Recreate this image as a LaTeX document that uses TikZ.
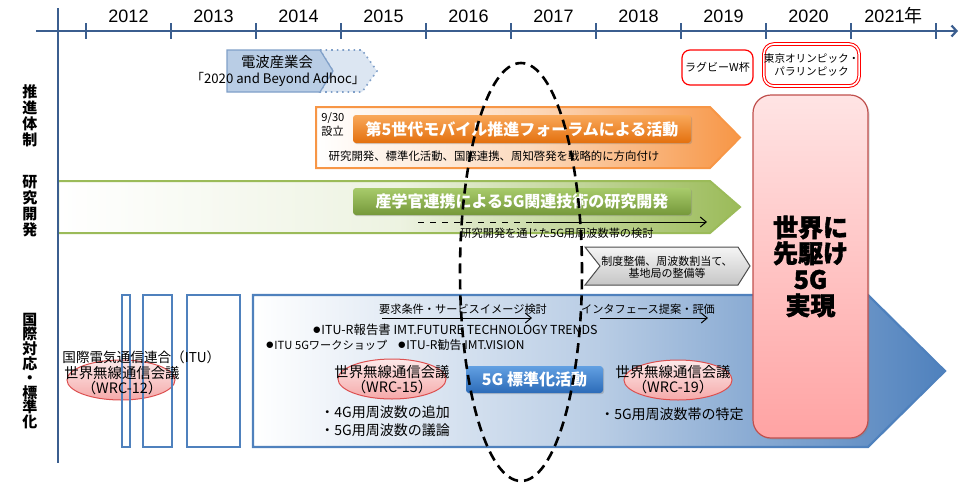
\documentclass[tikz,border=0pt]{standalone}
\usepackage{fontspec}
\setmainfont{Noto Sans CJK JP}
\newfontfamily\arialfont{Liberation Sans}
\newfontfamily\heavyfont{Noto Sans CJK JP}[BoldFeatures={FakeBold=1.6}]
\usepackage{tikz}
\usetikzlibrary{arrows.meta,positioning,shapes.geometric,shadows}

\definecolor{axisblue}{HTML}{3B5E8F}
\definecolor{barblue}{HTML}{4F81BD}
\definecolor{denpa}{HTML}{7F9FC8}
\definecolor{ltblue}{HTML}{B9CDE5}
\definecolor{orng}{HTML}{F79646}
\definecolor{orngtop}{HTML}{F9A85A}
\definecolor{orngbot}{HTML}{E3700E}
\definecolor{grn}{HTML}{9BBB59}
\definecolor{grntop}{HTML}{A8CB6B}
\definecolor{grnbot}{HTML}{75983A}
\definecolor{btnblue}{HTML}{2C6BB8}
\definecolor{btnbluetop}{HTML}{62A0E2}
\definecolor{wrcred}{HTML}{DC5050}
\definecolor{wrcpink}{HTML}{F5A9A9}
\definecolor{pinktop}{HTML}{FFE4E4}
\definecolor{pinkbot}{HTML}{FFA3A3}
\definecolor{boxred}{HTML}{C0504D}

\newcommand{\blackdot}{{\arialfont\fontsize{7.5}{7}\selectfont ●}}

\begin{document}
\begin{tikzpicture}[x=0.5pt, y=-0.5pt,
        axis/.style={draw=axisblue, line width=1.1pt},
        year/.style={font=\arialfont\fontsize{9}{10}\selectfont, inner sep=0pt},
        sidelabel/.style={font=\bfseries\fontsize{7.5}{8}\selectfont, align=center, inner sep=0pt},
        note/.style={font=\fontsize{5.6}{6.2}\selectfont, inner sep=0pt},
        button/.style={rounded corners=1.5pt, text=white, inner sep=0pt,
            font=\bfseries\fontsize{8}{9}\selectfont,
            drop shadow={shadow xshift=0.6pt, shadow yshift=-0.6pt, opacity=0.35}},
        wrc/.style={ellipse, draw=wrcred, line width=0.5pt, inner sep=0pt,
            minimum width=54pt, minimum height=20pt,
            top color=wrcpink!25, bottom color=wrcpink},
        wrctext/.style={font=\fontsize{7.2}{7.6}\selectfont, align=center, inner sep=0pt},
        itubar/.style={draw=barblue, line width=1.1pt},
        thinarrow/.style={-{Straight Barb[length=3pt, width=5pt]}, line width=0.5pt},
    ]
    % 画像の大きさ
        \useasboundingbox (0,0) rectangle (959,483);

    % 推進体制：電波産業会
        \draw[fill=ltblue!50, draw=denpa, dotted, line width=0.8pt] (320,50) -- (362,50) -- (377,71) -- (362,92) -- (320,92) -- (333,71) -- cycle;
        \draw[fill=ltblue, draw=denpa, line width=0.6pt] (227,50) -- (320,50) -- (333,71) -- (320,92) -- (227,92) -- cycle;
        \node[font=\fontsize{7.2}{8}\selectfont, inner sep=0pt] (arib) at (277,62) {電波産業会};
        \node[font=\fontsize{6.6}{8}\selectfont, inner sep=0pt] (adhoc) at (278,79) {「2020 and Beyond Adhoc」};

    % ラグビー・オリンピック
        \node[draw=red, rounded corners=4pt, line width=0.6pt, minimum width=35.5pt, minimum height=17.5pt, font=\fontsize{5.5}{6}\selectfont, inner sep=0pt] (rugby) at (717.5,67.5) {ラグビーW杯};
        \node[draw=red, double=white, double distance=0.8pt, line width=0.5pt, rounded corners=5pt, minimum width=46.5pt, minimum height=21pt, align=center, font=\fontsize{5.3}{6.6}\selectfont, inner sep=0pt] (olymp) at (811.5,65) {東京オリンピック・\\パラリンピック};

    % 推進フォーラム
        \shadedraw[left color=white, right color=orng, middle color=orng!35, draw=orng, line width=1pt] (316,107) -- (710,107) -- (740,137.5) -- (710,168) -- (316,168) -- cycle;
        \node[font=\fontsize{5.6}{7}\selectfont, align=left, inner sep=0pt, anchor=west] (setup) at (321,124.5) {9/30\\設立};
        \node[button, top color=orngtop, bottom color=orngbot, minimum width=169pt, minimum height=14pt] (forum) at (522,129) {第5世代モバイル推進フォーラムによる活動};
        \node[note, font=\fontsize{5.7}{6.2}\selectfont] (forumnote) at (494,156) {研究開発、標準化活動、国際連携、周知啓発を戦略的に方向付け};

    % 研究開発
        \shadedraw[left color=white, right color=grn, middle color=grn!18, draw=grn, line width=1pt] (58,181) -- (710,181) -- (740,207) -- (710,233) -- (58,233) -- cycle;
        \node[button, top color=grntop, bottom color=grnbot, minimum width=169pt, minimum height=13.5pt] (rnd) at (522,201.5) {産学官連携による5G関連技術の研究開発};
        \coordinate (rdA) at (418,222);
        \coordinate (rdB) at (533,222);
        \coordinate (rdC) at (707,222);
        \draw[dashed, line width=0.5pt] (rdA) -- (rdB);
        \draw[thinarrow] (rdB) -- (rdC);
        \node[note] (rdnote) at (557,233) {研究開発を通じた5G用周波数帯の検討};

    % 制度整備
        \shadedraw[top color=gray!8, bottom color=gray!45, draw=gray!60!black, line width=0.5pt] (585,247) -- (738,247) -- (750,266) -- (738,285) -- (585,285) -- (600,266) -- cycle;
        \node[font=\fontsize{5.5}{5.9}\selectfont, align=center, inner sep=0pt] (seido) at (667,267) {制度整備、周波数割当て、\\基地局の整備等};

    % 国際対応・標準化
        \shadedraw[left color=white, right color=barblue, middle color=barblue!40, draw=barblue, line width=1.1pt] (253,295) -- (868,295) -- (945,371) -- (868,447) -- (253,447) -- cycle;
        \node[wrc] (wrc12) at (121,380) {};
        \draw[itubar] (122,295) rectangle (130,447);
        \draw[itubar] (143,295) rectangle (172,447);
        \draw[itubar] (187,295) rectangle (240,447);
        \node[wrctext, font=\fontsize{6.8}{7.6}\selectfont, anchor=west] (itu) at (62,357) {国際電気通信連合（ITU）};
        \node[wrctext] (wrc12t) at (122,380.5) {世界無線通信会議\\（WRC-12）};

        \node[note] (req) at (463,309) {要求条件・サービスイメージ検討};
        \coordinate (reqS) at (382,318);
        \coordinate (reqE) at (532,318);
        \draw[thinarrow] (reqS) -- (reqE);
        \node[note] (itf) at (648,309) {インタフェース提案・評価};
        \coordinate (itfS) at (600,318);
        \coordinate (itfE) at (708,318);
        \draw[thinarrow] (itfS) -- (itfE);

        \node[note, font=\fontsize{6.2}{7}\selectfont] (report) at (455,330) {\blackdot ITU-R報告書 IMT.FUTURE TECHNOLOGY TRENDS};
        \node[note, font=\fontsize{5.6}{7}\selectfont, anchor=west] (wshop) at (265,345) {\blackdot ITU 5Gワークショップ};
        \node[note, font=\fontsize{6}{7}\selectfont, anchor=west] (vision) at (397,345) {\blackdot ITU-R勧告 IMT.VISION};

        \node[wrc] (wrc15) at (392,379) {};
        \node[wrctext] (wrc15t) at (392,379.5) {世界無線通信会議\\（WRC-15）};
        \node[wrctext, font=\fontsize{7}{9}\selectfont, align=left, anchor=west] (wrc15list) at (320,421) {・4G用周波数の追加\\・5G用周波数の議論};

        \node[button, top color=btnbluetop, bottom color=btnblue, minimum width=68.5pt, minimum height=13.5pt] (std) at (534.5,379.5) {5G 標準化活動};

        \node[wrc] (wrc19) at (678,380) {};
        \node[wrctext] (wrc19t) at (673,380) {世界無線通信会議\\（WRC-19）};
        \node[wrctext, font=\fontsize{7}{9}\selectfont] (wrc19list) at (672,414) {・5G用周波数帯の特定};

    % 時間軸
        \coordinate (axL) at (36,31);
        \coordinate (axR) at (958,31);
        \coordinate (axT) at (58,8);
        \coordinate (axB) at (58,463);
        \draw[axis, -{Straight Barb[length=2.5pt, width=5.5pt]}] (axL) -- (axR);
        \draw[axis] (axT) -- (axB);
        \draw[axis] (86,23) -- (86,39) (171,23) -- (171,39) (256,23) -- (256,39) (341,23) -- (341,39)
            (426,23) -- (426,39) (511,23) -- (511,39) (596,23) -- (596,39) (681,23) -- (681,39)
            (766,23) -- (766,39) (851,23) -- (851,39) (936,23) -- (936,39);
        \node[year] (y2012) at (128.5,16) {2012};
        \node[year] (y2013) at (213.5,16) {2013};
        \node[year] (y2014) at (298.5,16) {2014};
        \node[year] (y2015) at (383.5,16) {2015};
        \node[year] (y2016) at (468.5,16) {2016};
        \node[year] (y2017) at (553.5,16) {2017};
        \node[year] (y2018) at (638.5,16) {2018};
        \node[year] (y2019) at (723.5,16) {2019};
        \node[year] (y2020) at (808.5,16) {2020};
        \node[year] (y2021) at (893.5,16) {2021{\normalfont 年}};

    % 縦の見出し
        \node[sidelabel] (suishin) at (30,116) {推\\進\\体\\制};
        \node[sidelabel] (kenkyu) at (30,206) {研\\究\\開\\発};
        \node[sidelabel, font=\bfseries\fontsize{7.5}{7.3}\selectfont] (kokusai) at (30,371) {国\\際\\対\\応\\・\\標\\準\\化};

    % 目標
        \node[rounded corners=9pt, minimum width=57.5pt, minimum height=171.5pt, top color=pinktop, bottom color=pinkbot, draw=boxred, line width=0.6pt, drop shadow={shadow xshift=0.8pt, shadow yshift=-0.8pt, opacity=0.3}, align=center, inner sep=0pt, font=\heavyfont\bfseries\fontsize{12.5}{13}\selectfont] (goal) at (810.5,266.5) {世界に\\先駆け\\5G\\実現};

    % 注目範囲
        \node[ellipse, draw, dash pattern=on 5pt off 3pt, line width=1.3pt, inner sep=0pt, minimum width=61pt, minimum height=209pt] (focus) at (521,272) {};
\end{tikzpicture}
\end{document}
